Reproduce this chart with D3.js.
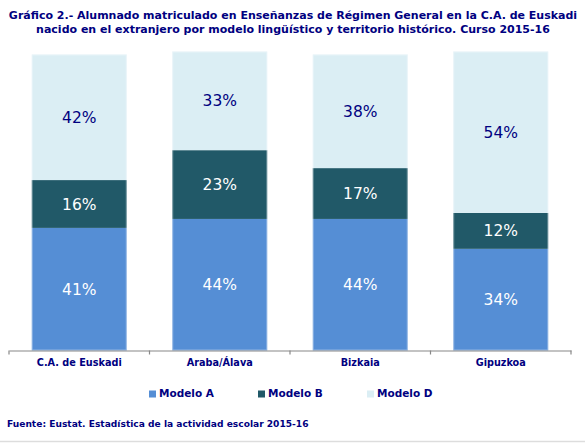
<!DOCTYPE html>
<html>
<head>
<meta charset="utf-8">
<script src="https://cdn.jsdelivr.net/npm/d3@7"></script>
<style>
  html, body { margin: 0; padding: 0; background: #ffffff; }
  svg { display: block; }
  text { font-family: "DejaVu Sans", Verdana, sans-serif; }
</style>
</head>
<body>
<svg id="chart" width="585" height="443"></svg>
<script>
// ---- Data ----
const categories = ["C.A. de Euskadi", "Araba/Álava", "Bizkaia", "Gipuzkoa"];
const seriesNames = ["Modelo A", "Modelo B", "Modelo D"];
const modeloA = [41, 44, 44, 34];
const modeloB = [16, 23, 17, 12];
const modeloD = [42, 33, 38, 54];
const titleLines = [
  "Gráfico 2.- Alumnado matriculado en Enseñanzas de Régimen General en la C.A. de Euskadi",
  "nacido en el extranjero por modelo lingüístico y territorio histórico. Curso 2015-16"
];
const sourceText = "Fuente: Eustat. Estadística de la actividad escolar 2015-16";

// ---- Styles ----
const colors = ["#558ED5", "#215968", "#DBEEF4"];
const labelColors = ["#ffffff", "#ffffff", "#000080"];
const navy = "#000080";

const rows = categories.map((c, i) => ({
  cat: c, "Modelo A": modeloA[i], "Modelo B": modeloB[i], "Modelo D": modeloD[i]
}));

const svg = d3.select("#chart");

function fitWidth(sel, target) {
  const fs = parseFloat(sel.attr("font-size"));
  const w = sel.node().getComputedTextLength();
  const nfs = fs * target / w;
  sel.attr("font-size", nfs);
  return nfs;
}

// Title
const t1 = svg.append("text").attr("x", 293).attr("y", 18.5)
  .attr("text-anchor", "middle").attr("font-weight", "bold")
  .attr("font-size", 11).attr("fill", navy).text(titleLines[0]);
const tfs = fitWidth(t1, 569);
svg.append("text").attr("x", 293).attr("y", 32.7)
  .attr("text-anchor", "middle").attr("font-weight", "bold")
  .attr("font-size", tfs).attr("fill", navy).text(titleLines[1]);

// Scales
const x = d3.scaleBand().domain(categories).range([9, 571])
  .paddingInner(0.324).paddingOuter(0.162);
const y = d3.scaleLinear().domain([0, 100]).range([350.5, 51.5]);

const stack = d3.stack().keys(seriesNames);
const series = stack(rows);

const g = svg.append("g");
series.forEach((s, si) => {
  g.selectAll(null).data(s).join("rect")
    .attr("x", d => x(d.data.cat))
    .attr("y", d => y(d[1]))
    .attr("width", x.bandwidth())
    .attr("height", d => y(d[0]) - y(d[1]))
    .attr("fill", colors[si]);
});
// light edges on bars
const topSeries = series[series.length - 1];
g.selectAll(null).data(topSeries).join("rect")
  .attr("x", d => x(d.data.cat) + 0.5)
  .attr("y", d => y(d[1]) + 0.5)
  .attr("width", x.bandwidth() - 1)
  .attr("height", d => y(0) - y(d[1]) - 1)
  .attr("fill", "none").attr("stroke", "#ffffff").attr("stroke-opacity", 0.35);

// Value labels
series.forEach((s, si) => {
  g.selectAll(null).data(s).join("text")
    .attr("x", d => x(d.data.cat) + x.bandwidth() / 2)
    .attr("y", d => (y(d[0]) + y(d[1])) / 2)
    .attr("dy", "0.36em")
    .attr("text-anchor", "middle")
    .attr("font-size", 15.5)
    .attr("fill", labelColors[si])
    .text(d => d.data[seriesNames[si]] + "%");
});

// Axis
const axis = svg.append("g").attr("transform", `translate(0,${y(0)})`)
  .call(d3.axisBottom(x).tickSize(0).tickPadding(9).tickSizeOuter(0));
axis.select(".domain").attr("stroke", "#888888").attr("stroke-width", 1.2);
axis.selectAll(".tick text")
  .attr("font-family", "DejaVu Sans, Verdana, sans-serif")
  .attr("font-weight", "bold").attr("fill", navy).attr("font-size", 10);
const firstLab = axis.select(".tick text");
const cfs = fitWidth(firstLab, 85);
axis.selectAll(".tick text").attr("font-size", cfs);
// boundary ticks
const bounds = d3.range(categories.length + 1).map(i => x.range()[0] + i * x.step());
axis.selectAll(null).data(bounds).join("line")
  .attr("x1", d => d).attr("x2", d => d)
  .attr("y1", 0).attr("y2", 4)
  .attr("stroke", "#888888").attr("stroke-width", 1.2);

// Legend
const legX = [149, 258, 367];
const leg = svg.append("g");
seriesNames.forEach((n, i) => {
  leg.append("rect").attr("x", legX[i]).attr("y", 390.5).attr("width", 7).attr("height", 7)
    .attr("fill", colors[i]);
  const lt = leg.append("text").attr("x", legX[i] + 10).attr("y", 397)
    .attr("font-weight", "bold").attr("font-size", 11).attr("fill", navy).text(n);
  if (i === 0) fitWidth(lt, 55);
  else lt.attr("font-size", leg.select("text").attr("font-size"));
});

// Source
const src = svg.append("text").attr("x", 7).attr("y", 427)
  .attr("font-weight", "bold").attr("font-size", 9).attr("fill", navy).text(sourceText);
fitWidth(src, 302);

// bottom border
svg.append("line").attr("x1", 0).attr("x2", 585).attr("y1", 441.5).attr("y2", 441.5)
  .attr("stroke", "#dddddd").attr("stroke-width", 1.5);
</script>
</body>
</html>
